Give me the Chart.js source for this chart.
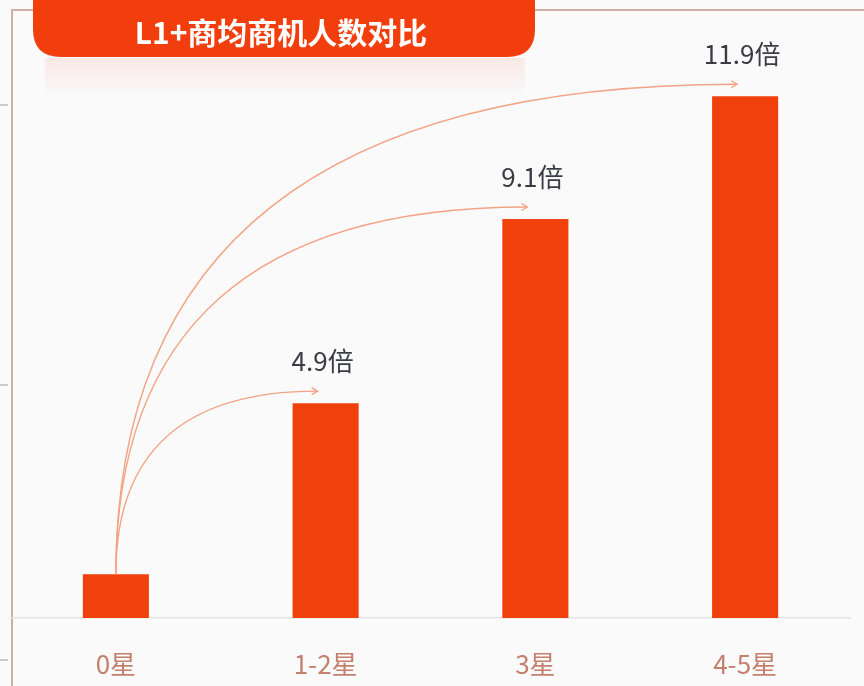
<!DOCTYPE html>
<html>
<head>
<meta charset="utf-8">
<script src="https://cdn.jsdelivr.net/npm/chart.js@4.4.1/dist/chart.umd.min.js"></script>
<style>
  html, body { margin: 0; padding: 0; background: #fafafa; }
  #wrap { width: 864px; height: 686px; position: relative; }
</style>
</head>
<body>
<div id="wrap"><canvas id="canvas1"></canvas></div>
<script>
const FONT = '"Noto Sans CJK SC", "Noto Sans", sans-serif';

const titleText = 'L1+商均商机人数对比';
const categories = ['0星', '1-2星', '3星', '4-5星'];
const values = [1, 4.9, 9.1, 11.9];
const ratioLabels = ['', '4.9倍', '9.1倍', '11.9倍'];

const barColor = '#f0400c';
const arrowColor = '#f2a486';

// frame, banner and the small ticks on the far left
const decor = {
  id: 'decor',
  beforeDraw(chart) {
    const c = chart.ctx;
    c.save();
    c.fillStyle = '#fafafa';
    c.fillRect(0, 0, chart.width, chart.height);
    // frame
    c.strokeStyle = '#cfaea4';
    c.lineWidth = 2;
    c.beginPath();
    c.moveTo(12, chart.height);
    c.lineTo(12, 10);
    c.lineTo(chart.width, 10);
    c.stroke();
    // left ticks
    c.strokeStyle = '#b8b8b8';
    c.lineWidth = 1.5;
    [105, 385, 660].forEach(y => {
      c.beginPath(); c.moveTo(0, y); c.lineTo(8, y); c.stroke();
    });
    // banner reflection
    const g = c.createLinearGradient(0, 58, 0, 96);
    g.addColorStop(0, 'rgba(240,90,50,0.11)');
    g.addColorStop(1, 'rgba(240,90,50,0)');
    c.fillStyle = g;
    c.fillRect(45, 58, 480, 38);
    // banner
    const x0 = 33, x1 = 535, yb = 57, r = 28;
    c.fillStyle = '#f23d0d';
    c.beginPath();
    c.moveTo(x0, -10);
    c.lineTo(x0, yb - r);
    c.quadraticCurveTo(x0, yb, x0 + r, yb);
    c.lineTo(x1 - r, yb);
    c.quadraticCurveTo(x1, yb, x1, yb - r);
    c.lineTo(x1, -10);
    c.closePath();
    c.fill();
    c.fillStyle = '#ffffff';
    c.font = 'bold 30px ' + FONT;
    c.textAlign = 'center';
    c.textBaseline = 'middle';
    c.fillText(titleText, 281, 33);
    c.restore();
  }
};

// curved arrows from the 0星 bar and the ratio labels
const arrows = {
  id: 'arrows',
  afterDatasetsDraw(chart) {
    const c = chart.ctx;
    const bars = chart.getDatasetMeta(0).data;
    const sx = bars[0].x, sy = bars[0].y;
    c.save();
    for (let i = 1; i < bars.length; i++) {
      const ex = bars[i].x - 8, ey = bars[i].y - 12;
      c.strokeStyle = arrowColor;
      c.lineWidth = 1.4;
      c.beginPath();
      c.moveTo(sx, sy);
      c.quadraticCurveTo(sx, ey, ex, ey);
      c.stroke();
      c.beginPath();
      c.moveTo(ex - 6, ey - 3.5);
      c.lineTo(ex, ey);
      c.lineTo(ex - 6, ey + 3.5);
      c.stroke();
      c.fillStyle = '#3b3b45';
      c.font = '26px ' + FONT;
      c.textAlign = 'center';
      c.textBaseline = 'middle';
      c.fillText(ratioLabels[i], bars[i].x - 3, bars[i].y - 42);
    }
    c.restore();
  }
};

const data = {
  labels: categories,
  datasets: [{
    data: values,
    backgroundColor: barColor,
    borderWidth: 0,
    barPercentage: 0.315,
    categoryPercentage: 1
  }]
};

const options = {
  responsive: false,
  animation: false,
  layout: { padding: { top: 48, left: 11, right: 14, bottom: 0 } },
  plugins: { legend: { display: false }, tooltip: { enabled: false } },
  scales: {
    x: {
      grid: { display: false },
      border: { display: true, color: '#e4e4e4', width: 1.5 },
      ticks: { color: '#c4806f', padding: 23, font: { size: 26, family: FONT } },
      afterFit(scale) { scale.height = 68; }
    },
    y: {
      display: false,
      min: 0,
      max: 13
    }
  }
};

const canvas = document.getElementById('canvas1');
canvas.width = 864;
canvas.height = 686;
const myChart = new Chart(canvas.getContext('2d'), {
  type: 'bar',
  data: data,
  options: options,
  plugins: [decor, arrows]
});
</script>
</body>
</html>
